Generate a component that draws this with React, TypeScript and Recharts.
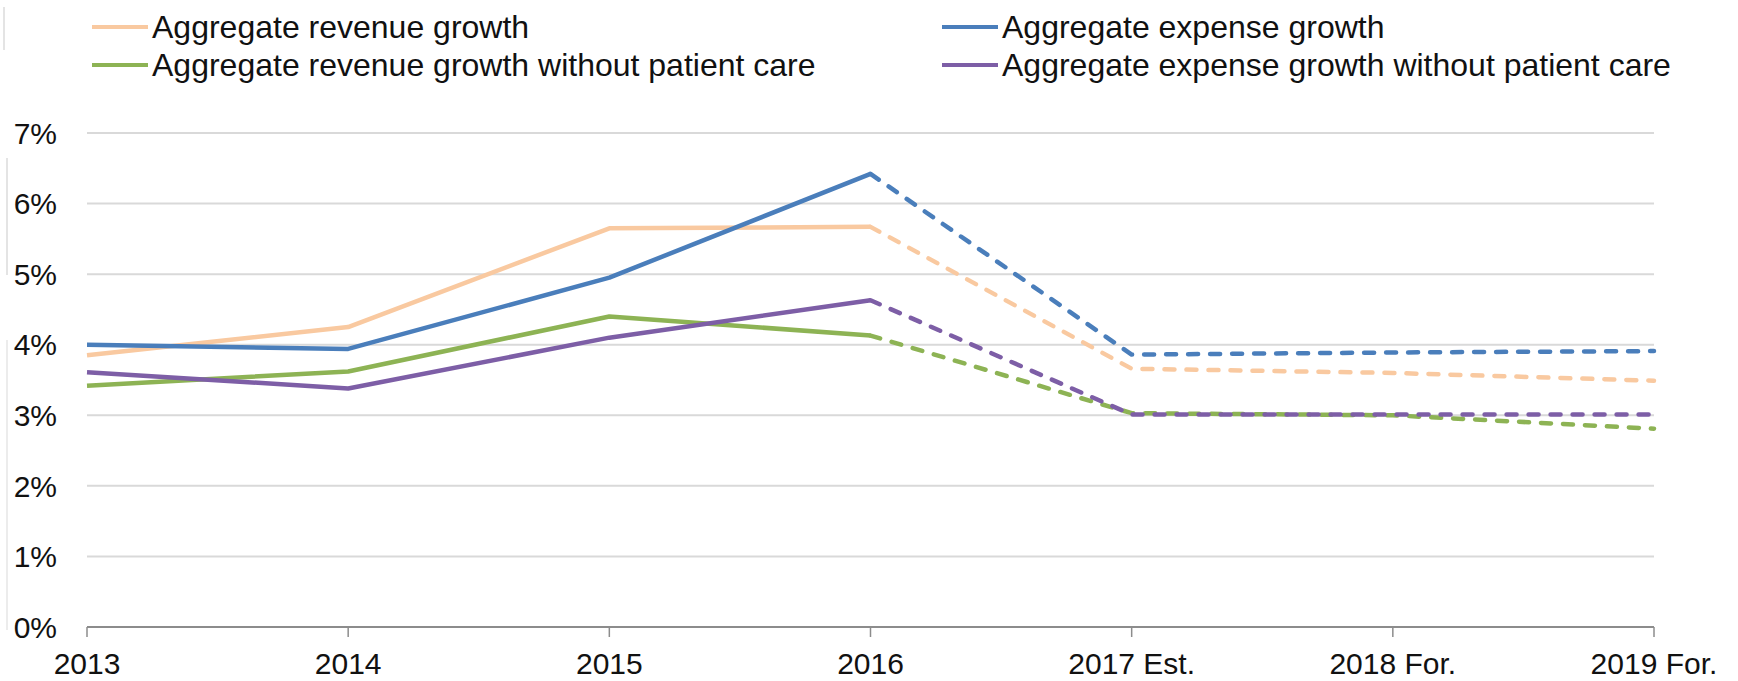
import { LineChart, Line, XAxis, YAxis, CartesianGrid } from 'recharts';

// Categories and values (percent growth)
const years = ['2013', '2014', '2015', '2016', '2017 Est.', '2018 For.', '2019 For.'];
const revenueGrowth = [3.85, 4.25, 5.65, 5.67, 3.66, 3.6, 3.49];
const expenseGrowth = [4.0, 3.94, 4.95, 6.42, 3.86, 3.89, 3.91];
const revenueGrowthNoCare = [3.42, 3.62, 4.4, 4.13, 3.03, 3.0, 2.81];
const expenseGrowthNoCare = [3.61, 3.38, 4.1, 4.63, 3.01, 3.01, 3.01];
const yTicks = [0, 1, 2, 3, 4, 5, 6, 7];
const lastActualIndex = 3; // 2016 is the last actual year, after that dashed

const series = [
  { key: 'revenue', name: 'Aggregate revenue growth', values: revenueGrowth, color: '#f9c9a0' },
  { key: 'revenueNoCare', name: 'Aggregate revenue growth without patient care', values: revenueGrowthNoCare, color: '#8db354' },
  { key: 'expense', name: 'Aggregate expense growth', values: expenseGrowth, color: '#4a7ebb' },
  { key: 'expenseNoCare', name: 'Aggregate expense growth without patient care', values: expenseGrowthNoCare, color: '#7d5ea6' },
];

// split each series into an actual (solid) and a forecast (dashed) part
const data = years.map((year, i) => {
  const row: Record<string, string | number | null> = { year };
  series.forEach((s) => {
    row[s.key + 'Actual'] = i <= lastActualIndex ? s.values[i] : null;
    row[s.key + 'Forecast'] = i >= lastActualIndex ? s.values[i] : null;
  });
  return row;
});

const FONT = '"Liberation Sans", Arial, sans-serif';
const TEXT = '#111';

const legendItems = [
  { name: 'Aggregate revenue growth', color: '#f9c9a0', left: 92, top: 27 },
  { name: 'Aggregate expense growth', color: '#4a7ebb', left: 942, top: 27 },
  { name: 'Aggregate revenue growth without patient care', color: '#8db354', left: 92, top: 65 },
  { name: 'Aggregate expense growth without patient care', color: '#7d5ea6', left: 942, top: 65 },
];

export default function App() {
  return (
    <div style={{ position: 'absolute', left: 0, top: 0, width: 1738, height: 681, background: '#fff', fontFamily: FONT }}>
      {/* scan artefacts on the left edge */}
      <div style={{ position: 'absolute', left: 3, top: 7, width: 2, height: 43, background: '#e4e4e4' }} />
      <div style={{ position: 'absolute', left: 6, top: 158, width: 2, height: 117, background: '#e4e4e4' }} />
      <div style={{ position: 'absolute', left: 6, top: 340, width: 2, height: 290, background: '#ececec' }} />

      {/* Legend */}
      {legendItems.map((item) => (
        <div
          key={item.name}
          style={{ position: 'absolute', left: item.left, top: item.top - 20, height: 40, display: 'flex', alignItems: 'center' }}
        >
          <div style={{ width: 56, height: 4.5, background: item.color, marginRight: 4 }} />
          <span style={{ fontSize: 32, color: TEXT, whiteSpace: 'nowrap' }}>{item.name}</span>
        </div>
      ))}

      <LineChart width={1738} height={681} data={data} margin={{ top: 133, right: 84, bottom: 14, left: 0 }}>
        <CartesianGrid vertical={false} stroke="#d9d9d9" strokeWidth={2} />
        <XAxis
          dataKey="year"
          interval={0}
          height={40}
          tickSize={10}
          tickMargin={16}
          axisLine={{ stroke: '#8c8c8c', strokeWidth: 2 }}
          tickLine={{ stroke: '#8c8c8c', strokeWidth: 1.5 }}
          tick={{ fontSize: 30, fill: TEXT, fontFamily: FONT }}
        />
        <YAxis
          domain={[0, 7]}
          ticks={yTicks}
          width={87}
          tickSize={0}
          tickMargin={30}
          axisLine={false}
          tickLine={false}
          tickFormatter={(v) => `${v}%`}
          tick={{ fontSize: 30, fill: TEXT, fontFamily: FONT }}
        />
        {series.map((s) => (
          <Line
            key={s.key + 'Actual'}
            type="linear"
            dataKey={s.key + 'Actual'}
            stroke={s.color}
            strokeWidth={4.5}
            strokeLinejoin="round"
            dot={false}
            activeDot={false}
            isAnimationActive={false}
          />
        ))}
        {series.map((s) => (
          <Line
            key={s.key + 'Forecast'}
            type="linear"
            dataKey={s.key + 'Forecast'}
            stroke={s.color}
            strokeWidth={4.5}
            strokeDasharray="10 12"
            strokeLinecap="round"
            strokeLinejoin="round"
            dot={false}
            activeDot={false}
            isAnimationActive={false}
          />
        ))}
      </LineChart>
    </div>
  );
}
